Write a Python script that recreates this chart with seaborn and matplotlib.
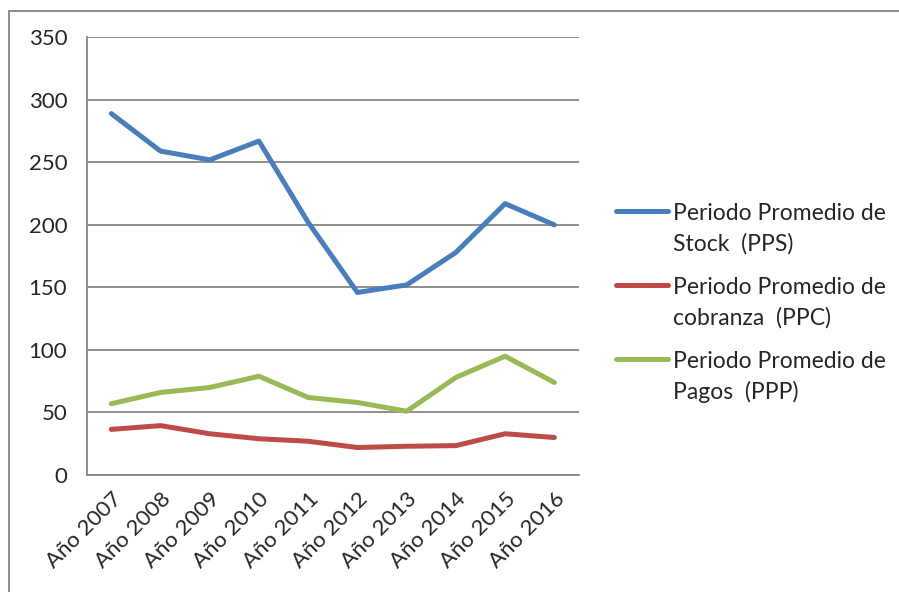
import numpy as np
import pandas as pd
import seaborn as sns
import matplotlib.pyplot as plt
from matplotlib.patches import Rectangle

# datos
anios = ["Año 2007", "Año 2008", "Año 2009", "Año 2010", "Año 2011",
         "Año 2012", "Año 2013", "Año 2014", "Año 2015", "Año 2016"]
pps = [289, 259, 252, 267, 202, 146, 152, 178, 217, 200]
ppc = [36.5, 39.5, 33, 29, 27, 22, 23, 23.5, 33, 30]
ppp = [57, 66, 70, 79, 62, 58, 51, 78, 95, 74]

series = ["Periodo Promedio de\nStock  (PPS)",
          "Periodo Promedio de\ncobranza  (PPC)",
          "Periodo Promedio de\nPagos  (PPP)"]
colores = ["#4A7EBB", "#BE4B48", "#98B954"]

df = pd.DataFrame({
    "x": list(range(len(anios))) * 3,
    "valor": pps + ppc + ppp,
    "serie": np.repeat(series, len(anios)),
})

sns.set_style("white")
plt.rcParams["font.family"] = ["Lato", "DejaVu Sans"]

fig = plt.figure(figsize=(8.99, 5.92), dpi=100)
ax = fig.add_axes([0.0964, 0.1976, 0.5476, 0.7394])

sns.lineplot(data=df, x="x", y="valor", hue="serie", palette=colores,
             linewidth=3.6, ax=ax, legend=True)

ax.set_xlim(-0.5, 9.5)
ax.set_ylim(0, 350)
ax.set_yticks(range(0, 351, 50))
ax.yaxis.grid(True, color="#868686", linewidth=1.3)
ax.set_axisbelow(True)
ax.set_xlabel("")
ax.set_ylabel("")

ax.set_xticks(np.arange(-0.5, 10, 1))
ax.set_xticklabels([])
ax.set_xticks(range(len(anios)), minor=True)
ax.set_xticklabels(anios, minor=True, rotation=45, ha="right",
                   rotation_mode="anchor", fontsize=16)
ax.tick_params(axis="x", which="major", length=6, color="#868686", direction="out")
ax.tick_params(axis="x", which="minor", length=0, pad=10)
ax.tick_params(axis="y", length=6, color="#868686", labelsize=16, pad=8)

for lado in ["top", "right"]:
    ax.spines[lado].set_visible(False)
for lado in ["left", "bottom"]:
    ax.spines[lado].set_color("#868686")
    ax.spines[lado].set_linewidth(1.3)

h, l = ax.get_legend_handles_labels()
leg = ax.legend(h, l, loc="center left", bbox_to_anchor=(0.662, 0.488),
                bbox_transform=fig.transFigure, frameon=False, fontsize=16.5,
                handlelength=2.3, handletextpad=0.2, labelspacing=1.0)
for t in leg.get_texts():
    t.set_linespacing(1.5)
for col in leg._legend_handle_box.get_children():
    for item in col.get_children():
        item.align = "top"

fig.patches.append(Rectangle((9 / 899, -0.1), 1.5, 1 - 11 / 592 + 0.1,
                             transform=fig.transFigure, fill=False,
                             edgecolor="#868686", linewidth=1.3))

fig.savefig("out.png", dpi=100)
